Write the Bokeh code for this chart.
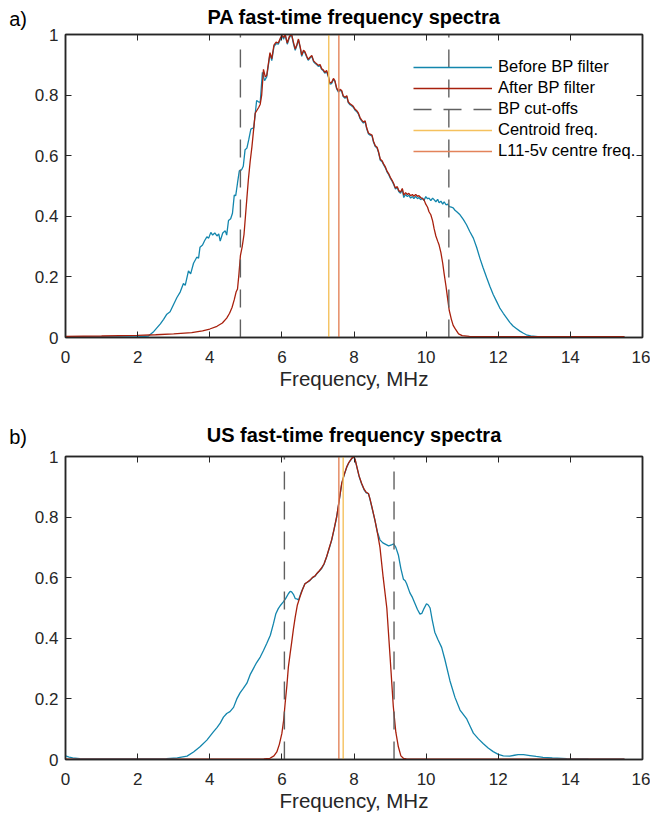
from bokeh.plotting import figure
from bokeh.models import (Range1d, LinearAxis, FixedTicker, CustomJSTickFormatter, Title,
                          Legend, LegendItem, CustomLabelingPolicy)
from bokeh.layouts import column
from bokeh.embed import file_html
from bokeh.resources import INLINE

# ---------------- data: panel a (PA) ----------------
pa_before_f = [0.0, 0.5, 1.0, 1.5, 2.0, 2.30, 2.45, 2.63, 2.72, 2.81, 2.90, 3.00, 3.09, 3.18, 3.27, 3.32,
               3.41, 3.47, 3.55, 3.64, 3.69, 3.73, 3.80, 3.86, 3.92, 3.97, 4.03, 4.08, 4.14, 4.20, 4.25,
               4.29, 4.36, 4.43, 4.47, 4.52, 4.58, 4.63, 4.68, 4.72, 4.77, 4.82, 4.88, 4.93, 4.98, 5.03,
               5.08, 5.14, 5.18, 5.22, 5.30, 5.35, 5.40, 5.46, 5.52, 5.58, 5.67, 5.72, 5.78, 5.84, 5.90,
               5.95, 6.00, 6.05, 6.09, 6.15, 6.21, 6.27, 6.32, 6.37, 6.42, 6.46, 6.51, 6.55, 6.60, 6.64,
               6.69, 6.73, 6.78, 6.83, 6.88, 6.92, 6.97, 7.01, 7.06, 7.10, 7.15, 7.19, 7.24, 7.29, 7.33,
               7.38, 7.43, 7.47, 7.52, 7.57, 7.61, 7.66, 7.70, 7.75, 7.80, 7.84, 7.89, 7.93, 7.98, 8.03,
               8.08, 8.12, 8.17, 8.21, 8.26, 8.31, 8.35, 8.40, 8.45, 8.50, 8.54, 8.59, 8.64, 8.68, 8.73,
               8.78, 8.82, 8.87, 8.92, 8.96, 9.01, 9.06, 9.10, 9.15, 9.20, 9.24, 9.29, 9.34, 9.38, 9.43,
               9.48, 9.52, 9.57, 9.62, 9.66, 9.71, 9.76, 9.80, 9.85, 9.90, 9.94, 9.99, 10.04, 10.08, 10.13,
               10.18, 10.22, 10.27, 10.32, 10.36, 10.41, 10.46, 10.50, 10.55, 10.60, 10.64, 10.70, 10.75,
               10.80, 10.85, 10.94, 11.03, 11.12, 11.21, 11.31, 11.40, 11.49, 11.58, 11.68, 11.77, 11.86,
               11.95, 12.04, 12.14, 12.23, 12.32, 12.41, 12.50, 12.60, 12.70, 12.78, 12.90, 13.10, 13.50,
               14.0, 15.0, 15.5]
pa_before_v = [0.002, 0.002, 0.002, 0.002, 0.002, 0.005, 0.02, 0.045, 0.06, 0.077, 0.085, 0.11, 0.132, 0.15, 0.178, 0.172,
               0.22, 0.21, 0.245, 0.265, 0.262, 0.298, 0.305, 0.32, 0.332, 0.328, 0.347, 0.338, 0.345, 0.335, 0.342,
               0.318, 0.345, 0.352, 0.338, 0.386, 0.392, 0.41, 0.47, 0.468, 0.51, 0.55, 0.553, 0.565, 0.62, 0.625,
               0.652, 0.688, 0.69, 0.692, 0.782, 0.778, 0.776, 0.875, 0.848, 0.86, 0.936, 0.914, 0.96, 0.97, 0.968,
               0.982, 0.995, 0.985, 1.0, 0.968, 0.99, 1.0, 0.97, 0.948, 0.965, 0.982, 0.955, 0.928, 0.945, 0.94,
               0.925, 0.915, 0.922, 0.928, 0.91, 0.905, 0.9, 0.895, 0.898, 0.885, 0.88, 0.872, 0.878, 0.86, 0.836,
               0.838, 0.852, 0.845, 0.82, 0.81, 0.816, 0.812, 0.795, 0.79, 0.795, 0.775, 0.768, 0.765, 0.76, 0.75,
               0.745, 0.738, 0.722, 0.715, 0.708, 0.712, 0.69, 0.672, 0.668, 0.665, 0.645, 0.63, 0.625, 0.61, 0.585,
               0.58, 0.57, 0.56, 0.545, 0.538, 0.525, 0.515, 0.505, 0.49, 0.495, 0.482, 0.476, 0.488, 0.462, 0.472,
               0.465, 0.47, 0.46, 0.465, 0.458, 0.466, 0.458, 0.462, 0.455, 0.46, 0.452, 0.465, 0.458, 0.46, 0.452,
               0.46, 0.455, 0.448, 0.456, 0.445, 0.45, 0.44, 0.448, 0.438, 0.44, 0.432, 0.43, 0.428,
               0.42, 0.415, 0.405, 0.39, 0.372, 0.35, 0.328, 0.298, 0.262, 0.23, 0.197, 0.168, 0.142,
               0.12, 0.098, 0.08, 0.065, 0.05, 0.038, 0.03, 0.021, 0.014, 0.009, 0.005, 0.003, 0.002,
               0.002, 0.002, 0.002]

pa_after_f = [0.0, 1.0, 2.0, 2.5, 3.0, 3.5, 3.8, 4.0, 4.2, 4.35, 4.47, 4.55, 4.62, 4.68, 4.73, 4.77, 4.81,
              4.85, 4.90, 4.95, 4.99, 5.03, 5.07, 5.12, 5.17, 5.22, 5.26, 5.31, 5.36, 5.40, 5.44, 5.49,
              5.54, 5.58, 5.67, 5.72, 5.78, 5.84, 5.90, 5.95, 6.00, 6.05, 6.09, 6.15, 6.21, 6.27, 6.32,
              6.37, 6.42, 6.46, 6.51, 6.55, 6.60, 6.64, 6.69, 6.73, 6.78, 6.83, 6.88, 6.92, 6.97, 7.01,
              7.06, 7.10, 7.15, 7.19, 7.24, 7.29, 7.33, 7.38, 7.43, 7.47, 7.52, 7.57, 7.61, 7.66, 7.70,
              7.75, 7.80, 7.84, 7.89, 7.93, 7.98, 8.03, 8.08, 8.12, 8.17, 8.21, 8.26, 8.31, 8.35, 8.40,
              8.45, 8.50, 8.54, 8.59, 8.64, 8.68, 8.73, 8.78, 8.82, 8.87, 8.92, 8.96, 9.01, 9.06, 9.10,
              9.15, 9.20, 9.24, 9.29, 9.34, 9.38, 9.43, 9.48, 9.52, 9.57, 9.62, 9.66, 9.71, 9.76, 9.80,
              9.85, 9.90, 9.94, 9.99, 10.04, 10.08, 10.13, 10.18, 10.22, 10.27, 10.32, 10.36, 10.41,
              10.46, 10.50, 10.55, 10.60, 10.64, 10.70, 10.75, 10.80, 10.90, 11.0, 11.2, 12.0, 15.5]
pa_after_v = [0.004, 0.005, 0.007, 0.009, 0.012, 0.016, 0.022, 0.028, 0.037, 0.048, 0.064, 0.08, 0.1, 0.125, 0.15, 0.16, 0.21,
              0.27, 0.3, 0.34, 0.4, 0.46, 0.52, 0.58, 0.63, 0.69, 0.74, 0.75, 0.76, 0.77, 0.8, 0.885,
              0.86, 0.865, 0.94, 0.92, 0.965, 0.975, 0.972, 0.986, 0.998, 0.99, 1.0, 0.972, 0.994, 1.0, 0.975,
              0.952, 0.968, 0.985, 0.958, 0.932, 0.948, 0.943, 0.928, 0.918, 0.925, 0.931, 0.913, 0.908, 0.903, 0.898,
              0.901, 0.888, 0.883, 0.875, 0.881, 0.863, 0.84, 0.842, 0.855, 0.848, 0.823, 0.813, 0.819, 0.815, 0.798,
              0.793, 0.798, 0.778, 0.771, 0.768, 0.763, 0.753, 0.748, 0.741, 0.725, 0.718, 0.711, 0.715, 0.693, 0.675,
              0.671, 0.668, 0.648, 0.633, 0.628, 0.613, 0.588, 0.583, 0.573, 0.563, 0.548, 0.541, 0.528, 0.518, 0.508,
              0.493, 0.498, 0.485, 0.48, 0.492, 0.47, 0.478, 0.472, 0.476, 0.468, 0.472, 0.466, 0.472, 0.466, 0.468,
              0.462, 0.458, 0.455, 0.44, 0.43, 0.415, 0.405, 0.385, 0.36, 0.335, 0.318, 0.305, 0.28,
              0.245, 0.21, 0.17, 0.125, 0.09, 0.06, 0.04, 0.03, 0.012, 0.006, 0.004, 0.003, 0.003]

pa_cutoffs = [4.85, 10.63]
pa_centroid = [7.30]
pa_probe = [7.58]

# ---------------- data: panel b (US) ----------------
us_before_f = [0.0, 0.1, 0.2, 0.4, 1.0, 2.0, 2.8, 3.1, 3.37, 3.55, 3.73, 3.92, 4.10, 4.20, 4.29, 4.38, 4.47,
               4.56, 4.66, 4.75, 4.84, 4.93, 5.03, 5.12, 5.21, 5.30, 5.40, 5.49, 5.58, 5.68, 5.77, 5.83,
               5.90, 5.97, 6.04, 6.10, 6.18, 6.23, 6.27, 6.32, 6.37, 6.42, 6.46, 6.53, 6.60, 6.64, 6.71,
               6.78, 6.85, 6.92, 6.97, 7.04, 7.10, 7.17, 7.24, 7.31, 7.38, 7.45, 7.52, 7.59, 7.66, 7.73,
               7.80, 7.86, 7.92, 7.98, 8.03, 8.08, 8.14, 8.21, 8.28, 8.34, 8.40, 8.44, 8.50, 8.58, 8.65,
               8.72, 8.80, 8.88, 8.96, 9.04, 9.10, 9.16, 9.23, 9.30, 9.37, 9.42, 9.46, 9.55, 9.62, 9.69,
               9.76, 9.83, 9.88, 9.94, 10.01, 10.06, 10.11, 10.17, 10.24, 10.33, 10.43, 10.52, 10.66,
               10.80, 10.94, 11.12, 11.22, 11.31, 11.45, 11.58, 11.72, 11.86, 12.00, 12.14, 12.32, 12.45,
               12.55, 12.70, 12.88, 13.05, 13.24, 13.5, 13.9, 14.5, 15.5]
us_before_v = [0.012, 0.008, 0.005, 0.003, 0.002, 0.002, 0.003, 0.005, 0.011, 0.025, 0.042, 0.064, 0.091, 0.105, 0.12, 0.14, 0.152,
               0.158, 0.172, 0.2, 0.22, 0.235, 0.252, 0.28, 0.3, 0.32, 0.338, 0.36, 0.383, 0.41, 0.45, 0.48,
               0.498, 0.51, 0.52, 0.53, 0.547, 0.555, 0.553, 0.545, 0.531, 0.53, 0.526, 0.55, 0.569, 0.58, 0.585,
               0.591, 0.6, 0.605, 0.613, 0.622, 0.63, 0.645, 0.668, 0.695, 0.723, 0.76, 0.8, 0.855, 0.91, 0.94,
               0.965, 0.98, 0.99, 1.0, 0.99, 0.965, 0.935, 0.91, 0.89, 0.88, 0.877, 0.86, 0.83, 0.79, 0.75,
               0.725, 0.715, 0.71, 0.705, 0.708, 0.712, 0.7, 0.675, 0.63, 0.595, 0.59, 0.58, 0.55, 0.535, 0.515,
               0.495, 0.48, 0.482, 0.498, 0.514, 0.51, 0.5, 0.46, 0.42, 0.395, 0.37, 0.33, 0.26,
               0.205, 0.163, 0.135, 0.11, 0.087, 0.068, 0.053, 0.038, 0.026, 0.017, 0.012, 0.011, 0.014,
               0.016, 0.016, 0.013, 0.01, 0.007, 0.005, 0.003, 0.002, 0.001]

us_after_f = [0.0, 5.0, 5.5, 5.67, 5.78, 5.86, 5.93, 6.00, 6.05, 6.09, 6.14, 6.18, 6.23, 6.27, 6.32, 6.37,
              6.43, 6.50, 6.57, 6.64, 6.71, 6.78, 6.85, 6.92, 6.97, 7.04, 7.10, 7.17, 7.24, 7.31, 7.38,
              7.45, 7.52, 7.59, 7.66, 7.73, 7.80, 7.86, 7.92, 7.98, 8.03, 8.08, 8.14, 8.21, 8.28, 8.34,
              8.40, 8.44, 8.50, 8.58, 8.65, 8.72, 8.81, 8.91, 9.00, 9.09, 9.16, 9.23, 9.30, 9.37, 9.45,
              10.0, 15.5]
us_after_v = [0.001, 0.001, 0.002, 0.004, 0.012, 0.025, 0.05, 0.086, 0.13, 0.185, 0.245, 0.305, 0.35, 0.385, 0.43, 0.47,
              0.51, 0.536, 0.56, 0.58, 0.586, 0.592, 0.601, 0.606, 0.614, 0.623, 0.632, 0.646, 0.669, 0.697, 0.725,
              0.762, 0.802, 0.856, 0.912, 0.941, 0.966, 0.981, 0.991, 1.0, 0.991, 0.966, 0.936, 0.912, 0.892, 0.882,
              0.878, 0.862, 0.832, 0.79, 0.748, 0.70, 0.6, 0.5, 0.34, 0.175, 0.09, 0.042, 0.012, 0.004, 0.002,
              0.001, 0.001]

us_cutoffs = [6.07, 9.11]
us_centroid = [7.70]
us_probe = [7.58]

x_ticks = [0, 2, 4, 6, 8, 10, 12, 14, 16]
y_ticks = [0, 0.2, 0.4, 0.6, 0.8, 1]

panel_letters = ["a)", "b)"]
panel_titles = ["PA fast-time frequency spectra", "US fast-time frequency spectra"]
x_label = "Frequency, MHz"
legend_labels = ["Before BP filter", "After BP filter", "BP cut-offs", "Centroid freq.", "L11-5v centre freq."]

# ---------------- style ----------------
C_BEFORE = "#1386ad"
C_AFTER = "#a8200d"
C_CUT = "#606060"
C_CENT = "#f5c15e"
C_PROBE = "#e3835a"
AX = "#262626"
FONT = "Liberation Sans"

fmt = CustomJSTickFormatter(code="return (Math.round(tick*10)/10).toString();")


def style_axis(ax, standoff=None):
    ax.axis_line_color = AX
    ax.axis_line_width = 1.5
    ax.major_tick_line_color = AX
    ax.major_tick_in = 6
    ax.major_tick_out = 0
    ax.minor_tick_line_color = None
    ax.major_label_text_font = FONT
    ax.major_label_text_color = AX
    if standoff is not None:
        ax.major_label_text_font_size = "17px"
        ax.major_label_standoff = standoff
    else:
        ax.major_label_text_font_size = "1px"
        ax.major_label_standoff = 0
        ax.major_label_policy = CustomLabelingPolicy(
            code="for (const i of Array.from(indices)) { indices.unset(i) }; return indices;")


def make_panel(idx, bf, bv, af, av, cuts, cent, probe, top_border, bottom_border, title_standoff,
               letter_standoff, with_legend):
    p = figure(output_backend="svg", toolbar_location=None,
               frame_width=577, frame_height=303,
               x_range=Range1d(0, 16), y_range=Range1d(0, 1),
               min_border_left=65, min_border_right=8,
               min_border_top=top_border, min_border_bottom=bottom_border)
    # main title, centred over the frame
    p.title = Title(text=panel_titles[idx], align="center",
                    standoff=title_standoff, text_font=FONT, text_font_size="20px",
                    text_font_style="bold", text_color="black")
    # panel letter: a second title pulled up onto the same line, left of the frame
    p.add_layout(Title(text=panel_letters[idx], align="left", offset=-56.3, vertical_align="top",
                       standoff=letter_standoff, text_font=FONT, text_font_size="20px",
                       text_font_style="normal", text_color="black"), "above")
    p.xgrid.visible = False
    p.ygrid.visible = False
    p.outline_line_color = AX
    p.outline_line_width = 1.5
    p.background_fill_color = "white"
    p.border_fill_color = "white"

    xa = p.xaxis[0]
    ya = p.yaxis[0]
    xa.ticker = FixedTicker(ticks=x_ticks)
    ya.ticker = FixedTicker(ticks=y_ticks)
    xa.formatter = fmt
    ya.formatter = fmt
    style_axis(xa, 13)
    style_axis(ya, 7)
    xa.axis_label = x_label
    xa.axis_label_text_font = FONT
    xa.axis_label_text_font_size = "20.5px"
    xa.axis_label_text_font_style = "normal"
    xa.axis_label_text_color = AX
    xa.axis_label_standoff = 1

    top = LinearAxis(ticker=FixedTicker(ticks=x_ticks))
    style_axis(top)
    p.add_layout(top, "above")
    right = LinearAxis(ticker=FixedTicker(ticks=y_ticks))
    style_axis(right)
    p.add_layout(right, "right")

    r_before = p.line(bf, bv, line_color=C_BEFORE, line_width=1.3)
    r_after = p.line(af, av, line_color=C_AFTER, line_width=1.3)
    r_cut = p.segment(x0=cuts, y0=[0] * len(cuts), x1=cuts, y1=[1] * len(cuts),
                      line_color=C_CUT, line_width=1.4, line_dash="18 12")
    r_cent = p.segment(x0=cent, y0=[0] * len(cent), x1=cent, y1=[1] * len(cent),
                       line_color=C_CENT, line_width=1.4)
    r_probe = p.segment(x0=probe, y0=[0] * len(probe), x1=probe, y1=[1] * len(probe),
                        line_color=C_PROBE, line_width=1.4)

    if with_legend:
        items = [LegendItem(label=legend_labels[0], renderers=[r_before]),
                 LegendItem(label=legend_labels[1], renderers=[r_after]),
                 LegendItem(label=legend_labels[2], renderers=[r_cut]),
                 LegendItem(label=legend_labels[3], renderers=[r_cent]),
                 LegendItem(label=legend_labels[4], renderers=[r_probe])]
        lg = Legend(items=items, location=(348, 177), orientation="vertical",
                    border_line_alpha=0, background_fill_alpha=0,
                    label_text_font=FONT, label_text_font_size="16.5px", label_text_color="black",
                    glyph_width=79, glyph_height=18, label_height=18, spacing=2,
                    padding=0, margin=0, label_standoff=6)
        p.add_layout(lg, "center")
    return p


pa = make_panel(0, pa_before_f, pa_before_v, pa_after_f, pa_after_v, pa_cutoffs, pa_centroid, pa_probe,
                34, 60, 5, -54, True)
us = make_panel(1, us_before_f, us_before_v, us_after_f, us_after_v, us_cutoffs, us_centroid, us_probe,
                59, 20, 14, -61, False)

layout = column(pa, us, spacing=0)
open("out.html", "w").write(file_html(layout, INLINE))
